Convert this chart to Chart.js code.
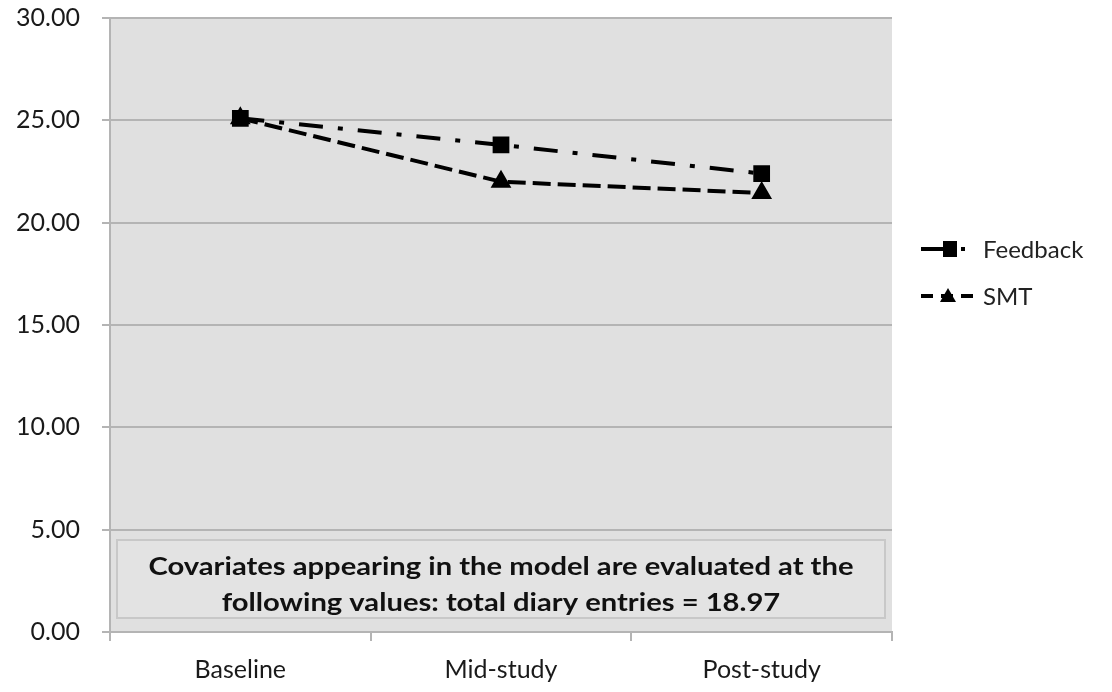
<!DOCTYPE html>
<html>
<head>
<meta charset="utf-8">
<script src="https://cdn.jsdelivr.net/npm/chart.js@4/dist/chart.umd.min.js"></script>
<style>
  html, body { margin: 0; padding: 0; background: #fff; }
  #wrap { width: 1112px; height: 692px; position: relative; }
</style>
</head>
<body>
<div id="wrap"><canvas id="chart"></canvas></div>
<script>
// data
const phases = ["Baseline", "Mid-study", "Post-study"];
const feedbackVals = [25.1, 23.8, 22.4];
const smtVals = [25.1, 22.0, 21.45];
const yTicks = [0, 5, 10, 15, 20, 25, 30];
const noteLines = [
  "Covariates appearing in the model are evaluated at the",
  "following values: total diary entries = 18.97"
];

const FONT = "Lato, 'Open Sans', sans-serif";

// grey plot background + covariate note box
const backdrop = {
  id: 'backdrop',
  beforeDraw(chart) {
    const { ctx, chartArea: a } = chart;
    ctx.save();
    ctx.fillStyle = '#e0e0e0';
    ctx.fillRect(a.left, a.top, a.right - a.left, a.bottom - a.top);
    ctx.restore();
  },
  beforeDatasetsDraw(chart) {
    const { ctx, chartArea: a } = chart;
    const x = a.left + 7, w = a.right - a.left - 14;
    const y = a.bottom - 92, h = 78;
    ctx.save();
    ctx.fillStyle = '#e3e3e3';
    ctx.strokeStyle = '#c8c8c8';
    ctx.lineWidth = 2;
    ctx.fillRect(x, y, w, h);
    ctx.strokeRect(x, y, w, h);
    ctx.fillStyle = '#111';
    ctx.font = "bold 25px " + FONT;
    ctx.textAlign = 'center';
    ctx.textBaseline = 'middle';
    // squeeze/stretch first line to ~705px like the narrow original face
    const k = 705 / ctx.measureText(noteLines[0]).width;
    noteLines.forEach((t, i) => {
      ctx.save();
      ctx.translate(x + w / 2, y + 27 + i * 36);
      ctx.scale(k, 1);
      ctx.fillText(t, 0, 0);
      ctx.restore();
    });
    ctx.restore();
  }
};

// legend on the right: short line + marker + label
const sideLegend = {
  id: 'sideLegend',
  afterDraw(chart) {
    const { ctx } = chart;
    const items = chart.data.datasets;
    ctx.save();
    items.forEach((ds, i) => {
      const y = 249 + i * 47;
      const x0 = 921, x1 = ds.pointStyle === 'rect' ? 968 : 980;
      ctx.strokeStyle = '#000';
      ctx.lineWidth = 4;
      ctx.setLineDash(ds.pointStyle === 'rect' ? [28, 12, 4, 20] : [12, 8]);
      ctx.beginPath();
      ctx.moveTo(x0, y); ctx.lineTo(x1, y);
      ctx.stroke();
      ctx.setLineDash([]);
      ctx.fillStyle = '#000';
      const cx = ds.pointStyle === 'rect' ? 950 : 948;
      if (ds.pointStyle === 'rect') {
        ctx.fillRect(cx - 7, y - 8, 14, 16);
      } else {
        ctx.beginPath();
        ctx.moveTo(cx, y - 8); ctx.lineTo(cx + 8, y + 6); ctx.lineTo(cx - 8, y + 6);
        ctx.closePath(); ctx.fill();
      }
      ctx.fillStyle = '#222';
      ctx.font = "24px " + FONT;
      ctx.textAlign = 'left';
      ctx.textBaseline = 'middle';
      ctx.fillText(ds.label, 983, y + 1);
    });
    ctx.restore();
  }
};

new Chart(document.getElementById('chart'), {
  type: 'line',
  data: {
    labels: phases,
    datasets: [
      {
        label: 'Feedback',
        data: feedbackVals,
        borderColor: '#000',
        backgroundColor: '#000',
        borderWidth: 4,
        borderDash: [24, 15, 5, 15],
        pointStyle: 'rect',
        pointRadius: 9,
        tension: 0
      },
      {
        label: 'SMT',
        data: smtVals,
        borderColor: '#000',
        backgroundColor: '#000',
        borderWidth: 4,
        borderDash: [18, 7],
        pointStyle: 'triangle',
        pointRadius: 8,
        tension: 0
      }
    ]
  },
  options: {
    responsive: true,
    maintainAspectRatio: false,
    animation: false,
    layout: { padding: { top: 18, right: 220, left: 0, bottom: 0 } },
    plugins: {
      legend: { display: false },
      tooltip: { enabled: false }
    },
    scales: {
      x: {
        offset: true,
        grid: { drawOnChartArea: false, offset: true, tickLength: 9, color: '#b4b4b4', lineWidth: 2 },
        border: { color: '#b4b4b4', width: 2 },
        ticks: { color: '#1a1a1a', font: { family: FONT, size: 25 }, padding: 14 },
        afterFit(s) { s.height = 60; }
      },
      y: {
        min: 0,
        max: 30,
        afterBuildTicks(s) { s.ticks = yTicks.map(v => ({ value: v })); },
        grid: { color: '#b4b4b4', lineWidth: 2, tickLength: 8 },
        border: { color: '#b4b4b4', width: 2 },
        ticks: {
          color: '#1a1a1a',
          font: { family: FONT, size: 25 },
          padding: 22,
          callback: v => v.toFixed(2)
        },
        afterFit(s) { s.width = 110; s.paddingTop = 0; s.paddingBottom = 0; }
      }
    }
  },
  plugins: [backdrop, sideLegend]
});
</script>
</body>
</html>
